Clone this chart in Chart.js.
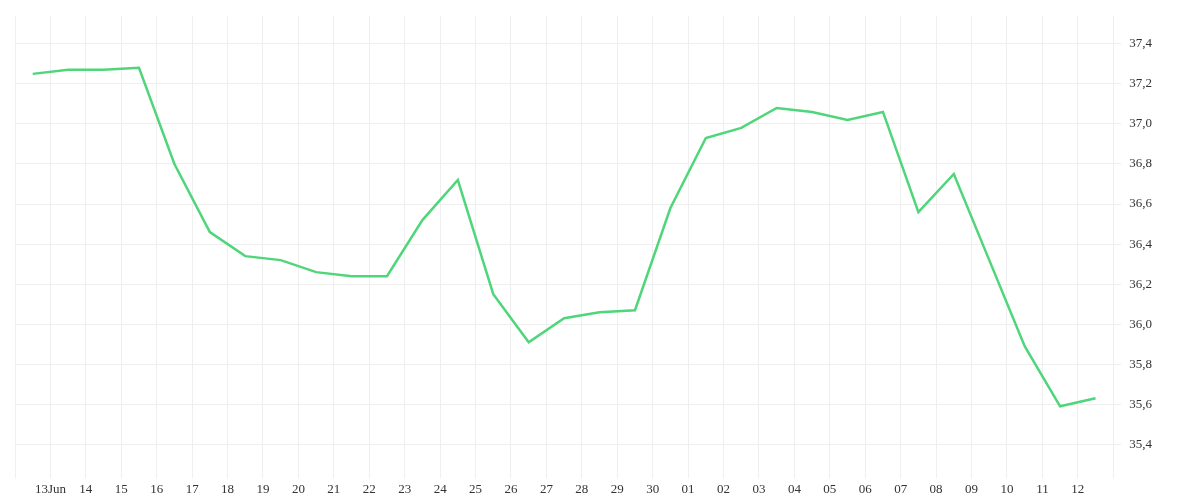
<!DOCTYPE html>
<html>
<head>
<meta charset="utf-8">
<script src="https://cdn.jsdelivr.net/npm/chart.js@4/dist/chart.umd.min.js"></script>
<style>
  html, body { margin: 0; padding: 0; background: #fff; }
  #wrap { width: 1200px; height: 500px; }
</style>
</head>
<body>
<div id="wrap"><canvas id="chart"></canvas></div>
<script>
// one value per day, points sit halfway between the day gridlines
const dayLabels = ['13Jun', '14', '15', '16', '17', '18', '19', '20', '21', '22', '23', '24', '25', '26',
  '27', '28', '29', '30', '01', '02', '03', '04', '05', '06', '07', '08', '09', '10', '11', '12'];
const values = [37.25, 37.27, 37.27, 37.28, 36.80, 36.46, 36.34, 36.32, 36.26, 36.24, 36.24,
  36.52, 36.72, 36.15, 35.91, 36.03, 36.06, 36.07, 36.58, 36.93, 36.98, 37.08, 37.06,
  37.02, 37.06, 36.56, 36.75, 36.32, 35.89, 35.59, 35.63];
const yTicks = [35.4, 35.6, 35.8, 36.0, 36.2, 36.4, 36.6, 36.8, 37.0, 37.2, 37.4];

const points = values.map((v, i) => ({ x: i, y: v }));

new Chart(document.getElementById('chart'), {
  type: 'line',
  data: {
    datasets: [{
      data: points,
      borderColor: '#4fd67a',
      borderWidth: 2.5,
      pointRadius: 0,
      tension: 0,
      fill: false
    }]
  },
  options: {
    responsive: true,
    maintainAspectRatio: false,
    animation: false,
    layout: { padding: { left: 15, right: 40, top: 0, bottom: 0 } },
    plugins: { legend: { display: false }, tooltip: { enabled: false } },
    scales: {
      x: {
        type: 'linear',
        min: -0.5,
        max: values.length - 0.5,
        afterBuildTicks: axis => {
          axis.ticks = [];
          for (let i = 0; i <= values.length; i++) axis.ticks.push({ value: i - 0.5 });
        },
        grid: { color: '#efefef', tickLength: 8 },
        border: { display: false },
        ticks: {
          autoSkip: false,
          maxRotation: 0,
          color: '#333',
          font: { family: 'Liberation Serif', size: 13 },
          callback: (v, idx) => dayLabels[idx - 1] || ''
        }
      },
      y: {
        position: 'right',
        min: 35.27,
        max: 37.54,
        afterBuildTicks: axis => { axis.ticks = yTicks.map(v => ({ value: v })); },
        grid: { color: '#efefef', tickLength: 8 },
        border: { display: false },
        ticks: {
          padding: 8,
          color: '#333',
          font: { family: 'Liberation Serif', size: 13 },
          callback: v => v.toFixed(1).replace('.', ',')
        }
      }
    }
  }
});
</script>
</body>
</html>
